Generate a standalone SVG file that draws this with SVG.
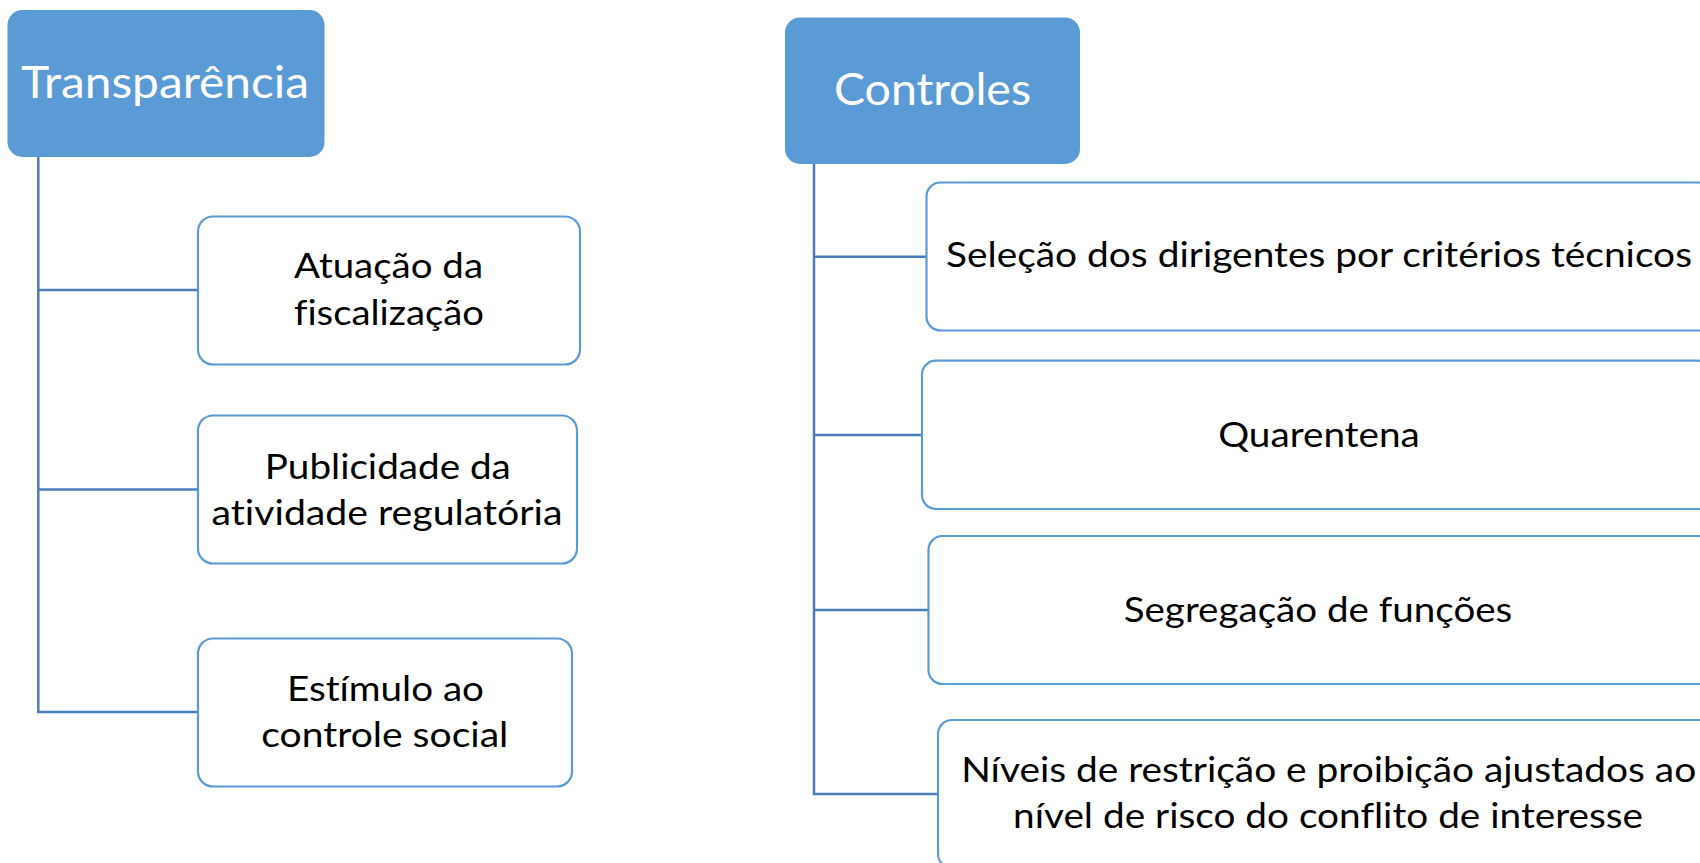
<svg xmlns="http://www.w3.org/2000/svg" width="1700" height="863" viewBox="0 0 1700 863">
<style>
.head{fill:#5B9BD5;stroke:#5B9BD5;stroke-width:2}
.child{fill:#FFFFFF;stroke:#5B9BD5;stroke-width:2.2}
.conn{fill:none;stroke:#4A7EBB;stroke-width:2.5}
.ht{font-family:Lato,"Open Sans","Liberation Sans",sans-serif;font-size:45px;fill:#FFFFFF;text-anchor:middle;font-variant-ligatures:none}
.ct{font-family:Lato,"Open Sans","Liberation Sans",sans-serif;font-size:35px;fill:#000000;text-anchor:middle;font-variant-ligatures:none}
</style>
<rect x="0" y="0" width="1700" height="863" fill="#FFFFFF"/>
<g id="connectors">
<path class="conn" d="M38.3,155 V712 H198"/>
<path class="conn" d="M38.3,290 H198"/>
<path class="conn" d="M38.3,489.5 H198"/>
<path class="conn" d="M814,163 V794 H938"/>
<path class="conn" d="M814,256.7 H926.5"/>
<path class="conn" d="M814,435 H922"/>
<path class="conn" d="M814,610 H928.5"/>
</g>
<g id="node-transparencia">
<rect class="head" x="8.5" y="11" width="315" height="145" rx="14"/>
<text class="ht" x="165" y="97.7" textLength="288" lengthAdjust="spacingAndGlyphs">Transparência</text>
</g>
<g id="node-atuacao">
<rect class="child" x="198" y="216.5" width="382" height="148" rx="15"/>
<text class="ct" x="388.5" y="278.3" textLength="189" lengthAdjust="spacingAndGlyphs">Atuação da</text>
<text class="ct" x="389" y="325" textLength="190" lengthAdjust="spacingAndGlyphs">fiscalização</text>
</g>
<g id="node-publicidade">
<rect class="child" x="198" y="415.5" width="379" height="148" rx="15"/>
<text class="ct" x="387.8" y="479" textLength="246" lengthAdjust="spacingAndGlyphs">Publicidade da</text>
<text class="ct" x="387" y="525" textLength="351" lengthAdjust="spacingAndGlyphs">atividade regulatória</text>
</g>
<g id="node-estimulo">
<rect class="child" x="198" y="638.5" width="374" height="148" rx="15"/>
<text class="ct" x="385.5" y="701" textLength="197" lengthAdjust="spacingAndGlyphs">Estímulo ao</text>
<text class="ct" x="384.8" y="746.7" textLength="247" lengthAdjust="spacingAndGlyphs">controle social</text>
</g>
<g id="node-controles">
<rect class="head" x="786" y="18.5" width="293" height="144.5" rx="14"/>
<text class="ht" x="932.5" y="105" textLength="197" lengthAdjust="spacingAndGlyphs">Controles</text>
</g>
<g id="node-selecao">
<rect class="child" x="926.5" y="182.5" width="785" height="148" rx="14"/>
<text class="ct" x="1319" y="266.7" textLength="746" lengthAdjust="spacingAndGlyphs">Seleção dos dirigentes por critérios técnicos</text>
</g>
<g id="node-quarentena">
<rect class="child" x="922" y="360.7" width="790" height="148.3" rx="14"/>
<text class="ct" x="1319" y="447.3" textLength="201.7" lengthAdjust="spacingAndGlyphs">Quarentena</text>
</g>
<g id="node-segregacao">
<rect class="child" x="928.5" y="536" width="783" height="148" rx="14"/>
<text class="ct" x="1318" y="621.7" textLength="388.6" lengthAdjust="spacingAndGlyphs">Segregação de funções</text>
</g>
<g id="node-niveis">
<rect class="child" x="938" y="720" width="781" height="148" rx="14"/>
<text class="ct" x="1328.7" y="781.7" textLength="735" lengthAdjust="spacingAndGlyphs">Níveis de restrição e proibição ajustados ao</text>
<text class="ct" x="1328" y="828.3" textLength="630" lengthAdjust="spacingAndGlyphs">nível de risco do conflito de interesse</text>
</g>
</svg>
